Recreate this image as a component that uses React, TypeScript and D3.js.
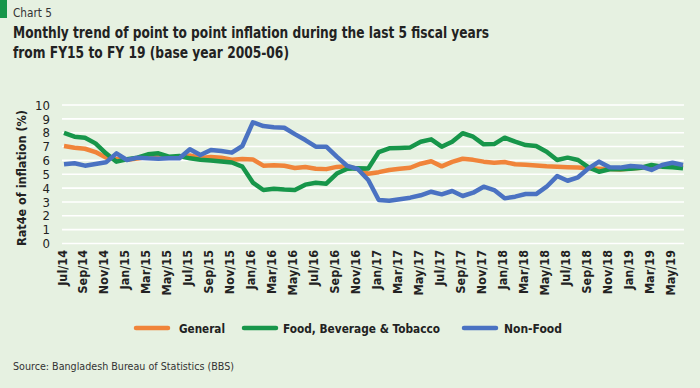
import * as d3 from "d3";
import { useEffect, useRef } from "react";

// months, Jul/14 .. Jun/19
const months = [
  "Jul/14", "Aug/14", "Sep/14", "Oct/14", "Nov/14", "Dec/14", "Jan/15", "Feb/15", "Mar/15", "Apr/15", "May/15", "Jun/15",
  "Jul/15", "Aug/15", "Sep/15", "Oct/15", "Nov/15", "Dec/15", "Jan/16", "Feb/16", "Mar/16", "Apr/16", "May/16", "Jun/16",
  "Jul/16", "Aug/16", "Sep/16", "Oct/16", "Nov/16", "Dec/16", "Jan/17", "Feb/17", "Mar/17", "Apr/17", "May/17", "Jun/17",
  "Jul/17", "Aug/17", "Sep/17", "Oct/17", "Nov/17", "Dec/17", "Jan/18", "Feb/18", "Mar/18", "Apr/18", "May/18", "Jun/18",
  "Jul/18", "Aug/18", "Sep/18", "Oct/18", "Nov/18", "Dec/18", "Jan/19", "Feb/19", "Mar/19", "Apr/19", "May/19", "Jun/19",
];

const general = [
  7.04, 6.91, 6.84, 6.6, 6.21, 6.11, 6.04, 6.14, 6.27, 6.32, 6.19, 6.25,
  6.36, 6.17, 6.24, 6.19, 6.05, 6.1, 6.07, 5.62, 5.65, 5.61, 5.45, 5.53,
  5.4, 5.37, 5.53, 5.57, 5.38, 5.03, 5.15, 5.31, 5.39, 5.47, 5.76, 5.94,
  5.57, 5.89, 6.12, 6.04, 5.91, 5.83, 5.88, 5.72, 5.68, 5.63, 5.57, 5.54,
  5.51, 5.48, 5.43, 5.4, 5.37, 5.35, 5.42, 5.47, 5.55, 5.58, 5.63, 5.52,
];

const food = [
  7.98, 7.71, 7.64, 7.23, 6.51, 5.91, 6.08, 6.2, 6.44, 6.51, 6.27, 6.32,
  6.15, 6.05, 6.0, 5.92, 5.85, 5.55, 4.4, 3.86, 3.96, 3.9, 3.86, 4.25,
  4.39, 4.32, 5.05, 5.4, 5.43, 5.42, 6.6, 6.87, 6.9, 6.94, 7.35, 7.52,
  6.99, 7.35, 7.96, 7.71, 7.16, 7.18, 7.64, 7.35, 7.11, 7.04, 6.63, 6.03,
  6.2, 6.03, 5.5, 5.18, 5.36, 5.36, 5.4, 5.47, 5.67, 5.55, 5.5, 5.43,
];

const nonFood = [
  5.72, 5.79, 5.62, 5.74, 5.86, 6.51, 6.03, 6.2, 6.15, 6.12, 6.15, 6.15,
  6.8, 6.39, 6.75, 6.68, 6.56, 7.04, 8.75, 8.48, 8.39, 8.36, 7.9, 7.47,
  6.99, 6.99, 6.27, 5.6, 5.38, 4.58, 3.14, 3.09, 3.2, 3.31, 3.48, 3.74,
  3.55, 3.79, 3.43, 3.67, 4.1, 3.86, 3.26, 3.38, 3.57, 3.57, 4.1, 4.87,
  4.53, 4.78, 5.43, 5.91, 5.5, 5.48, 5.6, 5.55, 5.31, 5.67, 5.83, 5.67,
];

const yTicks = [0, 1, 2, 3, 4, 5, 6, 7, 8, 9, 10];

const seriesNames = ["General", "Food, Beverage & Tobacco", "Non-Food"];
const seriesColors = ["#f0843a", "#17964a", "#4a72c2"];

const FONT = "'DejaVu Sans Condensed', 'Liberation Sans Narrow', 'Open Sans', sans-serif";

function App() {
  const ref = useRef<SVGSVGElement>(null);

  useEffect(() => {
    const svg = d3.select(ref.current);
    svg.selectAll("*").remove();

    // background
    svg.append("rect").attr("width", 700).attr("height", 388).attr("fill", "#e6f1e1");
    svg.append("rect").attr("x", 0).attr("y", 0).attr("width", 7).attr("height", 18).attr("fill", "#17964a");

    // titles
    svg.append("text").attr("x", 13).attr("y", 17).attr("font-size", 12.5)
      .attr("fill", "#333").attr("font-family", FONT)
      .attr("textLength", 39).attr("lengthAdjust", "spacingAndGlyphs").text("Chart 5");
    svg.append("text").attr("x", 13).attr("y", 38).attr("font-size", 15).attr("font-weight", "bold")
      .attr("fill", "#222").attr("font-family", FONT)
      .attr("textLength", 476).attr("lengthAdjust", "spacingAndGlyphs")
      .text("Monthly trend of point to point inflation during the last 5 fiscal years");
    svg.append("text").attr("x", 13).attr("y", 58).attr("font-size", 15).attr("font-weight", "bold")
      .attr("fill", "#222").attr("font-family", FONT)
      .attr("textLength", 276).attr("lengthAdjust", "spacingAndGlyphs")
      .text("from FY15 to FY 19 (base year 2005-06)");

    const x = d3.scalePoint<string>().domain(months).range([64, 683]);
    const y = d3.scaleLinear().domain([0, 10]).range([243.5, 105]);

    // y grid
    svg.append("g").selectAll("line").data(yTicks).join("line")
      .attr("x1", 62).attr("x2", 684)
      .attr("y1", (d) => y(d)).attr("y2", (d) => y(d))
      .attr("stroke", "#fff").attr("stroke-width", 1.6);

    // y tick labels
    svg.append("g").selectAll("text").data(yTicks).join("text")
      .attr("x", 50).attr("y", (d) => y(d)).attr("dy", "0.36em")
      .attr("text-anchor", "end").attr("font-size", 13).attr("font-family", FONT)
      .attr("fill", "#222").text((d) => d);

    // y axis title
    svg.append("text")
      .attr("transform", "translate(26,178) rotate(-90)")
      .attr("text-anchor", "middle").attr("font-size", 13).attr("font-weight", "bold")
      .attr("font-family", FONT).attr("fill", "#222")
      .attr("textLength", 136).attr("lengthAdjust", "spacingAndGlyphs")
      .text("Rat4e of inflation  (%)");

    // x tick labels, every second month
    svg.append("g").selectAll("text").data(months.filter((_, i) => i % 2 === 0)).join("text")
      .attr("transform", (d) => `translate(${(x(d) as number) - 2},250) rotate(-90)`)
      .attr("dy", "0.36em").attr("text-anchor", "end")
      .attr("font-size", 12.5).attr("font-weight", 600).attr("font-family", FONT)
      .attr("fill", "#222").text((d) => d);

    // lines
    const line = d3.line<number>()
      .x((_, i) => x(months[i]) as number)
      .y((d) => y(d));

    [general, food, nonFood].forEach((vals, k) => {
      svg.append("path").datum(vals)
        .attr("fill", "none").attr("stroke", seriesColors[k])
        .attr("stroke-width", 4.5).attr("stroke-linejoin", "round")
        .attr("d", line);
    });

    // legend
    const legend = [
      { x1: 136, tx: 179, w: 46 },
      { x1: 244, tx: 283, w: 157 },
      { x1: 464, tx: 504, w: 58 },
    ];
    legend.forEach((l, k) => {
      svg.append("line").attr("x1", l.x1).attr("x2", l.x1 + 32).attr("y1", 328).attr("y2", 328)
        .attr("stroke", seriesColors[k]).attr("stroke-width", 4.5).attr("stroke-linecap", "round");
      svg.append("text").attr("x", l.tx).attr("y", 333)
        .attr("font-size", 13).attr("font-weight", "bold").attr("font-family", FONT)
        .attr("fill", "#222").attr("textLength", l.w).attr("lengthAdjust", "spacingAndGlyphs")
        .text(seriesNames[k]);
    });

    // source
    svg.append("text").attr("x", 13).attr("y", 370).attr("font-size", 11)
      .attr("font-family", FONT).attr("fill", "#333")
      .attr("textLength", 221).attr("lengthAdjust", "spacingAndGlyphs")
      .text("Source: Bangladesh Bureau of Statistics (BBS)");
  }, []);

  return (
    <svg ref={ref} width={700} height={388} style={{ position: "absolute", left: 0, top: 0 }} />
  );
}

export default App;
